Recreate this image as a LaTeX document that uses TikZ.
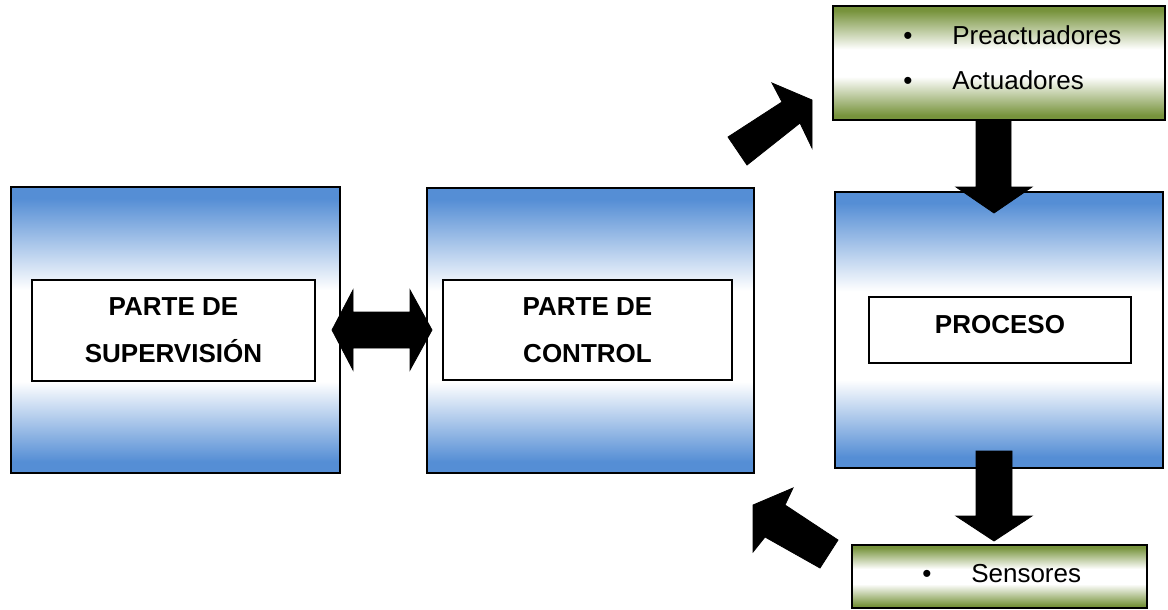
\documentclass[tikz,border=0pt]{standalone}
\usepackage{fontspec}
\setmainfont{Liberation Sans}
\usetikzlibrary{fit}
\definecolor{bfill}{RGB}{85,142,213}
\definecolor{gfill}{RGB}{119,147,60}
\pgfdeclareverticalshading{bluesh}{100bp}{color(0bp)=(bfill); color(27bp)=(bfill); color(41bp)=(white); color(57bp)=(white); color(73bp)=(bfill); color(100bp)=(bfill)}
\pgfdeclareverticalshading{greensh}{100bp}{color(0bp)=(gfill); color(27bp)=(gfill); color(44bp)=(white); color(56bp)=(white); color(73bp)=(gfill); color(100bp)=(gfill)}
\tikzset{
  bluebox/.style={draw=black, line width=2.2pt, shading=bluesh, inner sep=0pt},
  greenbox/.style={draw=black, line width=2.2pt, shading=greensh, inner sep=0pt},
  whitebox/.style={draw=black, line width=1.1pt, fill=white, inner sep=0pt},
  title/.style={font=\fontsize{19.5}{35}\selectfont\bfseries, align=center, inner sep=0pt},
  item/.style={font=\fontsize{19.5}{24}\selectfont, inner sep=0pt, anchor=base west},
  blockarrow/.style={fill=black, draw=black, line width=0.6pt, line join=miter}
}
\begin{document}
\begin{tikzpicture}[x=0.75pt,y=-0.75pt]
\useasboundingbox (0,0) rectangle (1168,610);
% outer boxes
\node[bluebox, fit={(11,187) (340,473)}] (sup) {};
\node[bluebox, fit={(427,188) (754,473)}] (ctl) {};
\node[bluebox, fit={(835,192) (1163,468)}] (pro) {};
\node[greenbox, fit={(833,6) (1165,120)}] (act) {};
\node[greenbox, fit={(852,545) (1147,608)}] (sen) {};
% inner boxes
\node[whitebox, fit={(32,280) (315,381)}] (supin) {};
\node[whitebox, fit={(443,280) (732,380)}] (ctlin) {};
\node[whitebox, fit={(869,297) (1131,363)}] (proin) {};
% titles
\node[title] (supt) at (supin.center) {PARTE DE\\SUPERVISIÓN};
\node[title] (ctlt) at (ctlin.center) {PARTE DE\\CONTROL};
\node[title, anchor=base] (prot) at (1000,333.3) {PROCESO};
% bullet items
\node[item] (b1) at (903,45) {•};
\node[item] (t1) at (952,45) {Preactuadores};
\node[item] (b2) at (903,90) {•};
\node[item] (t2) at (952,90) {Actuadores};
\node[item] (b3) at (922,582) {•};
\node[item] (t3) at (971,582) {Sensores};
% double arrow supervision <-> control
\filldraw[blockarrow] (332,330) -- (353,290) -- (353,312) -- (410,312) -- (410,290) -- (432,330)
  -- (410,370) -- (410,348) -- (353,348) -- (353,370) -- cycle;
% arrow control -> actuators
\filldraw[blockarrow] (728,137) -- (782,102) -- (772,83) -- (812,100) -- (812,148) -- (800,123) -- (747,165) -- cycle;
% arrow actuators -> process
\filldraw[blockarrow] (976,120) -- (976,187) -- (956,187) -- (994,213) -- (1032,187) -- (1011,187) -- (1011,120) -- cycle;
% arrow process -> sensors
\filldraw[blockarrow] (976,451) -- (976,516) -- (956,516) -- (994,541) -- (1032,516) -- (1012,516) -- (1012,451) -- cycle;
% arrow sensors -> control
\filldraw[blockarrow] (753,505) -- (793,488) -- (785,505) -- (838,540) -- (820,568) -- (765,537) -- (753,552) -- cycle;
\end{tikzpicture}
\end{document}
